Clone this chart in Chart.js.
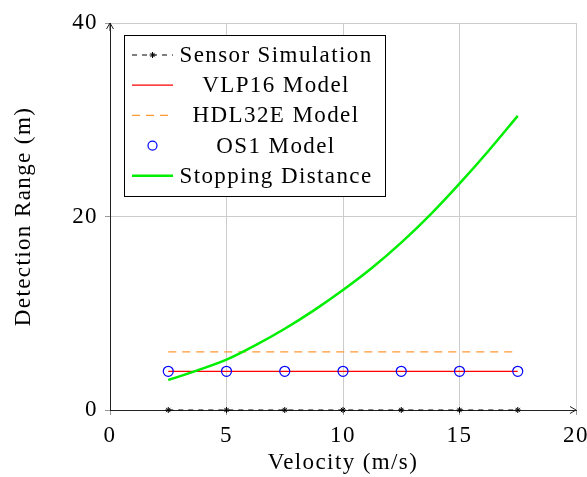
<!DOCTYPE html>
<html>
<head>
<meta charset="utf-8">
<script src="https://cdn.jsdelivr.net/npm/chart.js@4"></script>
<style>
  html, body { margin: 0; padding: 0; background: #fff; }
  #wrap { width: 587px; height: 477px; }
</style>
</head>
<body>
<div id="wrap"><canvas id="rangeChart"></canvas></div>
<script>
// values
const velocity = [2.5, 5, 7.5, 10, 12.5, 15, 17.5];
const sensorRange = [0, 0, 0, 0, 0, 0, 0];
const vlp16Range = [4, 4, 4, 4, 4, 4, 4];
const hdl32eRange = [6, 6, 6, 6, 6, 6, 6];
const os1Range = [4, 4, 4, 4, 4, 4, 4];
const stopVelocity = [2.5, 3.75, 5, 6.25, 7.5, 8.75, 10, 11.25, 12.5, 13.75, 15, 16.25, 17.5];
const stopDistance = [3.1, 4.1, 5.2, 6.7, 8.4, 10.3, 12.4, 14.7, 17.3, 20.2, 23.4, 26.8, 30.4];
const xTicks = [0, 5, 10, 15, 20];
const yTicks = [0, 20, 40];

const FONT = "'Liberation Serif', 'Times New Roman', serif";
const FONT_SIZE = 23;
const SPACING = '1.4px'; // widen Liberation Serif a bit, the original is Palatino

function pts(xs, ys) {
    return xs.map((x, i) => ({ x: x, y: ys[i] }));
}

function setSpacing(chart) {
    chart.ctx.letterSpacing = SPACING;
}

// legend drawn inside the plot, top left, like pgfplots
const innerLegend = {
    id: 'innerLegend',
    beforeUpdate: setSpacing,
    beforeLayout: setSpacing,
    beforeDraw: setSpacing,
    afterDatasetsDraw(chart) {
        const ctx = chart.ctx;
        const left = 124, top = 35, w = 261, h = 161;
        const rowH = 30.2;
        ctx.save();
        ctx.fillStyle = '#fff';
        ctx.fillRect(left, top, w, h);
        ctx.strokeStyle = '#000';
        ctx.lineWidth = 1;
        ctx.strokeRect(left + 0.5, top + 0.5, w, h);
        chart.data.datasets.forEach((ds, i) => {
            const y = top + 20 + i * rowH;
            const x0 = 132, x1 = 173;
            if (ds.showLine !== false) {
                ctx.beginPath();
                ctx.strokeStyle = ds.borderColor;
                ctx.lineWidth = ds.borderWidth;
                ctx.setLineDash(ds.borderDash || []);
                ctx.moveTo(x0, y);
                ctx.lineTo(x1, y);
                ctx.stroke();
                ctx.setLineDash([]);
            }
            if (ds.pointRadius > 0) {
                ctx.strokeStyle = ds.pointBorderColor;
                ctx.fillStyle = ds.pointBackgroundColor;
                ctx.lineWidth = ds.pointBorderWidth || 1;
                Chart.helpers.drawPoint(ctx, {
                    pointStyle: ds.pointStyle,
                    radius: ds.legendRadius || ds.pointRadius,
                    borderWidth: ds.pointBorderWidth || 1,
                    rotation: 0
                }, (x0 + x1) / 2, y);
            }
            ctx.font = FONT_SIZE + 'px ' + FONT;
            ctx.textAlign = 'center';
            ctx.textBaseline = 'middle';
            ctx.fillStyle = '#000';
            ctx.fillText(ds.label, 276, y + 1);
        });
        ctx.restore();
    },
    afterDraw(chart) {
        // arrow heads on the axes
        const ctx = chart.ctx;
        const a = chart.chartArea;
        ctx.save();
        ctx.strokeStyle = '#222';
        ctx.lineWidth = 1;
        ctx.beginPath();
        ctx.moveTo(a.left - 3.5, a.top + 6);
        ctx.lineTo(a.left, a.top);
        ctx.lineTo(a.left + 3.5, a.top + 6);
        ctx.moveTo(a.left, a.top);
        ctx.lineTo(a.left, a.top + 8);
        ctx.moveTo(a.right - 6, a.bottom - 3.5);
        ctx.lineTo(a.right, a.bottom);
        ctx.lineTo(a.right - 6, a.bottom + 3.5);
        ctx.stroke();
        ctx.restore();
    }
};

const ctx = document.getElementById('rangeChart').getContext('2d');

new Chart(ctx, {
    type: 'scatter',
    data: {
        datasets: [
            {
                label: 'Sensor Simulation',
                data: pts(velocity, sensorRange),
                showLine: true,
                borderColor: '#000',
                borderWidth: 1.2,
                borderDash: [5, 5],
                pointStyle: 'star',
                pointRadius: 3,
                pointBorderColor: '#000',
                pointBackgroundColor: '#000',
                pointBorderWidth: 1,
                clip: false,
                order: 1
            },
            {
                label: 'VLP16 Model',
                data: pts(velocity, vlp16Range),
                showLine: true,
                borderColor: '#ff0000',
                borderWidth: 1.2,
                pointRadius: 0,
                order: 4
            },
            {
                label: 'HDL32E Model',
                data: pts(velocity, hdl32eRange),
                showLine: true,
                borderColor: '#ff9933',
                borderWidth: 1.2,
                borderDash: [8, 6],
                pointRadius: 0,
                order: 5
            },
            {
                label: 'OS1 Model',
                data: pts(velocity, os1Range),
                showLine: false,
                borderColor: '#0000ff',
                pointStyle: 'circle',
                pointRadius: 5,
                legendRadius: 4.5,
                pointBorderColor: '#0000ff',
                pointBackgroundColor: 'rgba(0,0,0,0)',
                pointBorderWidth: 1.2,
                order: 3
            },
            {
                label: 'Stopping Distance',
                data: pts(stopVelocity, stopDistance),
                showLine: true,
                borderColor: '#00ee00',
                borderWidth: 2.5,
                cubicInterpolationMode: 'monotone',
                pointRadius: 0,
                order: 2
            }
        ]
    },
    options: {
        responsive: true,
        maintainAspectRatio: false,
        animation: false,
        layout: { padding: { top: 23, right: 0, left: 0, bottom: 0 } },
        plugins: {
            legend: { display: false },
            tooltip: { enabled: false }
        },
        scales: {
            x: {
                type: 'linear',
                min: 0,
                max: 20,
                afterFit: function(scale) {
                    scale.height = 67;
                    scale.paddingLeft = 0;
                    scale.paddingRight = 11;
                },
                afterBuildTicks: function(scale) { scale.ticks = xTicks.map(v => ({ value: v })); },
                border: { display: true, color: '#222', width: 1 },
                grid: { color: '#cccccc', lineWidth: 1, tickLength: 5, tickColor: '#999' },
                ticks: {
                    color: '#000',
                    padding: 7,
                    maxRotation: 0,
                    font: { family: FONT, size: FONT_SIZE }
                },
                title: {
                    display: true,
                    text: 'Velocity (m/s)',
                    color: '#000',
                    padding: { top: 0, bottom: 0 },
                    font: { family: FONT, size: FONT_SIZE }
                }
            },
            y: {
                min: 0,
                max: 40,
                afterFit: function(scale) { scale.width = 110; },
                afterBuildTicks: function(scale) { scale.ticks = yTicks.map(v => ({ value: v })); },
                border: { display: true, color: '#222', width: 1 },
                grid: { color: '#cccccc', lineWidth: 1, tickLength: 5, tickColor: '#999' },
                ticks: {
                    color: '#000',
                    padding: 7,
                    font: { family: FONT, size: FONT_SIZE }
                },
                title: {
                    display: true,
                    text: 'Detection Range (m)',
                    color: '#000',
                    padding: { top: 10, bottom: 0 },
                    font: { family: FONT, size: FONT_SIZE }
                }
            }
        }
    },
    plugins: [innerLegend]
});
</script>
</body>
</html>
